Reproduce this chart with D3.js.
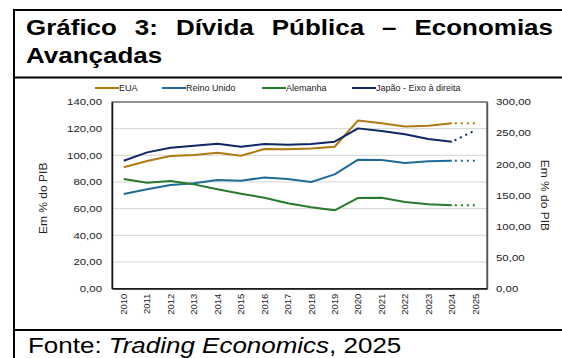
<!DOCTYPE html>
<html>
<head>
<meta charset="utf-8">
<script src="https://cdn.jsdelivr.net/npm/d3@7"></script>
<style>
body { margin: 0; background: #fff; }
svg { display: block; font-family: "Liberation Sans", Arial, sans-serif; }
</style>
</head>
<body>
<svg id="chart" width="562" height="358"></svg>
<script>
var years = ["2010","2011","2012","2013","2014","2015","2016","2017","2018","2019","2020","2021","2022","2023","2024","2025"];
// 2025 values are the dotted projection
var eua = [91.0, 95.7, 99.5, 100.2, 101.9, 99.7, 104.7, 104.5, 105.2, 106.4, 126.2, 124.0, 121.7, 122.2, 124.0, 124.0];
var reinoUnido = [71.0, 74.5, 77.7, 79.0, 81.5, 80.9, 83.4, 82.2, 80.0, 85.7, 96.7, 96.5, 94.2, 95.5, 96.0, 96.0];
var alemanha = [82.2, 79.4, 80.7, 78.2, 74.5, 71.2, 68.2, 64.0, 61.0, 58.7, 68.0, 68.2, 65.0, 63.2, 62.5, 62.5];
var japao = [205.6, 219.0, 226.5, 229.7, 232.9, 228.0, 232.4, 231.3, 232.4, 236.2, 257.6, 253.3, 248.0, 240.4, 236.1, 254.4];
var leftTicks = [0, 20, 40, 60, 80, 100, 120, 140];
var rightTicks = [0, 50, 100, 150, 200, 250, 300];

var svg = d3.select("#chart");
var fmt = function(v) { return d3.format(".2f")(v).replace(".", ","); };

// stretch text horizontally a bit, the source picture is wider than Arial
function widen(sel, k) {
  sel.each(function() {
    var len = this.getComputedTextLength();
    d3.select(this).attr("textLength", len * k).attr("lengthAdjust", "spacingAndGlyphs");
  });
}

// frame
svg.append("line").attr("x1", 14).attr("x2", 14).attr("y1", 9).attr("y2", 358).attr("stroke", "#000").attr("stroke-width", 2);
svg.append("line").attr("x1", 13).attr("x2", 562).attr("y1", 10).attr("y2", 10).attr("stroke", "#000").attr("stroke-width", 2);
svg.append("line").attr("x1", 13).attr("x2", 562).attr("y1", 77.5).attr("y2", 77.5).attr("stroke", "#000").attr("stroke-width", 2);
svg.append("line").attr("x1", 13).attr("x2", 562).attr("y1", 330).attr("y2", 330).attr("stroke", "#000").attr("stroke-width", 2);

// justified title line
var words = ["Gráfico", "3:", "Dívida", "Pública", "–", "Economias"];
var tl = svg.append("g").attr("font-size", 22).attr("font-weight", "bold").attr("fill", "#000");
var wt = words.map(function(w) { return tl.append("text").attr("y", 35).text(w); });
wt.forEach(function(t) { widen(t, 1.18); });
var widths = wt.map(function(t) { return +t.attr("textLength"); });
var x0 = 26, x1 = 553;
var gap = (x1 - x0 - d3.sum(widths)) / (words.length - 1);
var cx = x0;
wt.forEach(function(t, i) { t.attr("x", cx); cx += widths[i] + gap; });
widen(tl.append("text").attr("x", 26).attr("y", 63).text("Avançadas"), 1.18);

// footer
var ft = svg.append("text").attr("x", 28).attr("y", 353).attr("font-size", 22).attr("fill", "#000");
ft.append("tspan").text("Fonte: ");
ft.append("tspan").attr("font-style", "italic").text("Trading Economics");
ft.append("tspan").text(", 2025");
widen(ft, 1.18);

// plot
var left = 112, right = 487, plotTop = 102, bottom = 288.6;
var x = d3.scaleBand().domain(years).range([left, right]);
var yL = d3.scaleLinear().domain([0, 140]).range([bottom, plotTop]);
var yR = d3.scaleLinear().domain([0, 300]).range([bottom, plotTop]);

svg.append("g").selectAll("line").data(leftTicks.slice(1)).join("line")
  .attr("x1", left).attr("x2", right)
  .attr("y1", function(d) { return yL(d); }).attr("y2", function(d) { return yL(d); })
  .attr("stroke", "#dcdcdc").attr("stroke-width", 1.2);

svg.append("rect").attr("x", left).attr("y", plotTop).attr("width", right - left).attr("height", bottom - plotTop)
  .attr("fill", "none").attr("stroke", "#333").attr("stroke-width", 1);

var axL = svg.append("g").attr("transform", "translate(" + left + ",0)")
  .call(d3.axisLeft(yL).tickValues(leftTicks).tickFormat(fmt).tickSize(0).tickPadding(10));
var axR = svg.append("g").attr("transform", "translate(" + right + ",0)")
  .call(d3.axisRight(yR).tickValues(rightTicks).tickFormat(fmt).tickSize(0).tickPadding(9));
var axB = svg.append("g").attr("transform", "translate(0," + bottom + ")")
  .call(d3.axisBottom(x).tickSize(0));
[axL, axR, axB].forEach(function(a) {
  a.select(".domain").attr("stroke", "#111").attr("stroke-width", 1.5);
  a.selectAll("text").attr("font-size", 9).attr("fill", "#222").attr("font-family", "Liberation Sans, Arial, sans-serif");
});
axR.select(".domain").attr("stroke", "#555");
widen(axL.selectAll("text"), 1.27);
widen(axR.selectAll("text"), 1.27);
axB.selectAll("text").attr("transform", "rotate(-90)").attr("text-anchor", "end")
  .attr("x", -5).attr("y", 0).attr("dy", "0.35em").attr("font-size", 9.5);

// axis titles
var tL = svg.append("text").attr("transform", "translate(47," + ((plotTop + bottom) / 2 + 3) + ") rotate(-90)")
  .attr("text-anchor", "middle").attr("font-size", 10).attr("fill", "#222").text("Em % do PIB");
var tR = svg.append("text").attr("transform", "translate(541," + ((plotTop + bottom) / 2) + ") rotate(90)")
  .attr("text-anchor", "middle").attr("font-size", 10).attr("fill", "#222").text("Em % do PIB");
widen(tL, 1.2);
widen(tR, 1.2);

var series = [
  { name: "EUA", values: eua, color: "#b07a12", y: yL },
  { name: "Reino Unido", values: reinoUnido, color: "#1f6b96", y: yL },
  { name: "Alemanha", values: alemanha, color: "#267a2c", y: yL },
  { name: "Japão - Eixo à direita", values: japao, color: "#0e2766", y: yR }
];

series.forEach(function(s) {
  var pts = years.map(function(yr, i) { return [x(yr) + x.bandwidth() / 2, s.y(s.values[i])]; });
  var line = d3.line();
  svg.append("path").attr("d", line(pts.slice(0, 15))).attr("fill", "none")
    .attr("stroke", s.color).attr("stroke-width", 2).attr("stroke-linejoin", "round");
  svg.append("path").attr("d", line(pts.slice(14))).attr("fill", "none")
    .attr("stroke", s.color).attr("stroke-width", 2).attr("stroke-dasharray", "2,4").attr("stroke-dashoffset", -3);
});

// legend
var legendX = [95, 162, 262, 352];
var lg = svg.append("g");
series.forEach(function(s, i) {
  lg.append("line").attr("x1", legendX[i]).attr("x2", legendX[i] + 24).attr("y1", 88).attr("y2", 88)
    .attr("stroke", s.color).attr("stroke-width", 2);
  lg.append("text").attr("x", legendX[i] + 24).attr("y", 91.2).attr("font-size", 9).attr("fill", "#222").text(s.name);
});
</script>
</body>
</html>
